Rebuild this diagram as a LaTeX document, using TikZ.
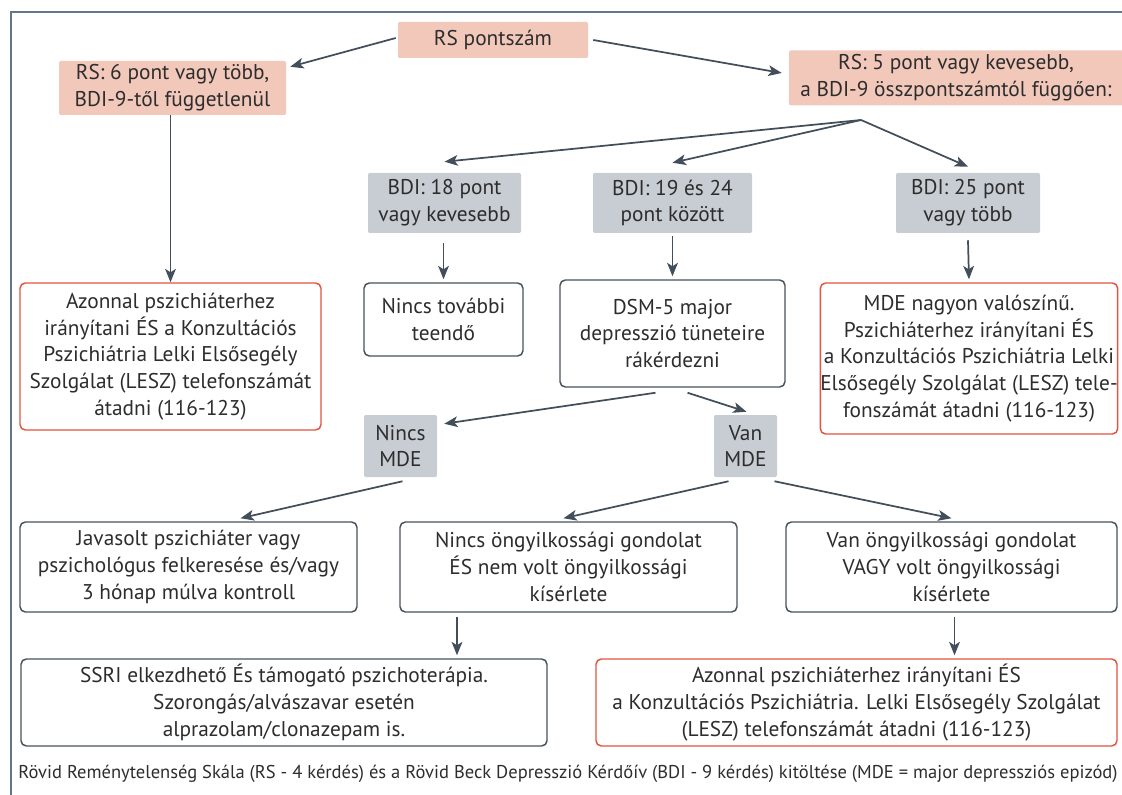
\documentclass[tikz,border=0pt]{standalone}
\usepackage{fontspec}
\setmainfont{PT Sans}
\usetikzlibrary{arrows.meta,calc}
\definecolor{pinkfill}{RGB}{242,200,186}
\definecolor{greyfill}{RGB}{200,204,211}
\definecolor{darkline}{RGB}{72,82,92}
\definecolor{redline}{RGB}{226,84,62}
\definecolor{arrowc}{RGB}{66,78,90}
\definecolor{txt}{RGB}{45,45,45}
\definecolor{framec}{RGB}{100,118,135}
\begin{document}
\begin{tikzpicture}[x=0.75pt,y=-0.75pt,
  font=\fontsize{16}{20}\selectfont,
  sz/.style 2 args={minimum width=#1*0.75pt, minimum height=#2*0.75pt},
  box/.style={rectangle, align=center, inner sep=0pt, text=txt},
  pinkbox/.style={box, fill=pinkfill, rounded corners=1pt},
  greybox/.style={box, fill=greyfill, rounded corners=1pt},
  outbox/.style={box, draw=darkline, line width=1.1pt, fill=white, rounded corners=4pt},
  redbox/.style={box, draw=redline, line width=1.1pt, fill=white, rounded corners=4pt},
  arr/.style={draw=arrowc, line width=1.3pt, -{Stealth[length=10pt,width=8pt,inset=2.5pt]}},
  framestyle/.style={draw=framec, line width=1.2pt}]
\useasboundingbox (0,0) rectangle (1122,795);
\draw[framestyle] (1124,12) -- (11,12) -- (11,797);

\node[pinkbox, sz={190}{36}] (rs) at (493,40) {RS pontszám};
\node[pinkbox, sz={227}{54}] (rsl) at (172.5,88) {RS: 6 pont vagy több,\\BDI-9-től függetlenül};
\node[pinkbox, sz={334}{55}] (rsr) at (956,78) {RS: 5 pont vagy kevesebb,\\a BDI-9 összpontszámtól függően:};
\node[greybox, sz={153}{60}] (bdi1) at (444.5,203) {BDI: 18 pont\\vagy kevesebb};
\node[greybox, sz={159}{60}] (bdi2) at (672.5,203) {BDI: 19 és 24\\pont között};
\node[greybox, sz={144}{60}] (bdi3) at (968,203) {BDI: 25 pont\\vagy több};
\node[redbox, sz={301}{147}] (red1) at (170.5,356.5) {Azonnal pszichiáterhez\\irányítani ÉS a Konzultációs\\Pszichiátria Lelki Elsősegély\\Szolgálat (LESZ) telefonszámát\\átadni (116-123)};
\node[outbox, sz={159}{73}] (nincs) at (443.5,319.5) {Nincs további\\teendő};
\node[outbox, sz={225}{107}] (dsm) at (672.5,333.5) {DSM-5 major\\depresszió tüneteire\\rákérdezni};
\node[redbox, sz={296}{151}] (red2) at (969,358.5) {MDE nagyon valószínű.\\Pszichiáterhez irányítani ÉS\\a Konzultációs Pszichiátria Lelki\\Elsősegély Szolgálat (LESZ) tele-\\fonszámát átadni (116-123)};
\node[greybox, sz={73}{62}] (nmde) at (400.5,446) {Nincs\\MDE};
\node[greybox, sz={63}{62}] (vmde) at (745.5,446) {Van\\MDE};
\node[outbox, sz={337}{90}] (jav) at (188.5,567) {Javasolt pszichiáter vagy\\pszichológus felkeresése és/vagy\\3 hónap múlva kontroll};
\node[outbox, sz={337}{90}] (nong) at (568.5,567) {Nincs öngyilkossági gondolat\\ÉS nem volt öngyilkossági\\kísérlete};
\node[outbox, sz={331}{90}] (vong) at (951.5,567) {Van öngyilkossági gondolat\\VAGY volt öngyilkossági\\kísérlete};
\node[outbox, sz={526}{87}] (ssri) at (284,702.5) {SSRI elkezdhető És támogató pszichoterápia.\\Szorongás/alvászavar esetén\\alprazolam/clonazepam is.};
\node[redbox, sz={521}{87}] (red3) at (856.5,702.5) {Azonnal pszichiáterhez irányítani ÉS\\a Konzultációs Pszichiátria. Lelki Elsősegély Szolgálat\\(LESZ) telefonszámát átadni (116-123)};
\node[box, font=\fontsize{13.9}{16}\selectfont] (cap) at (568,774) {Rövid Reménytelenség Skála (RS - 4 kérdés) és a Rövid Beck Depresszió Kérdőív (BDI - 9 kérdés) kitöltése (MDE = major depressziós epizód)};

% arrows
\draw[arr] ($(rs.west)+(-2,-2)$) -- ($(rsl.north east)+(4,6)$);
\draw[arr] ($(rs.east)+(5,0)$) -- ($(rsr.west)+(-7,-5)$);
\draw[arr] (rsl.south -| red1.north) -- (red1.north);
\coordinate (o) at (861,120);
\draw[arr] (o) -- ($(bdi1.north)+(0,-11)$);
\draw[arr] (o) -- ($(bdi2.north)+(0,-10)$);
\draw[arr] (o) -- ($(bdi3.north)+(0,-6)$);
\draw[arr] ($(bdi1.south)+(-1,10)$) -- ($(nincs.north)+(0,-3)$);
\draw[arr] ($(bdi2.south)+(0,3)$) -- ($(dsm.north)+(0,-3)$);
\draw[arr] ($(bdi3.south)+(0,7)$) -- ($(red2.north)+(0,-3)$);
\draw[arr] ($(dsm.south)+(-17,5)$) -- ($(nmde.north east)+(7,9)$);
\draw[arr] ($(dsm.south)+(15,5)$) -- ($(vmde.north)+(1,-3)$);
\draw[arr] ($(nmde.south)+(2,4)$) -- ($(jav.north)+(52,-3)$);
\draw[arr] ($(vmde.south)+(-17,4)$) -- ($(nong.north)+(-5,-3)$);
\draw[arr] ($(vmde.south)+(29,4)$) -- ($(vong.north)+(0,-3)$);
\coordinate (c1) at (457,0);
\draw[arr] ($(nong.south -| c1)+(0,4)$) -- ($(ssri.north -| c1)+(0,-3)$);
\draw[arr] ($(vong.south)+(3,4)$) -- ($(vong.south |- red3.north)+(3,-3)$);
\end{tikzpicture}
\end{document}
